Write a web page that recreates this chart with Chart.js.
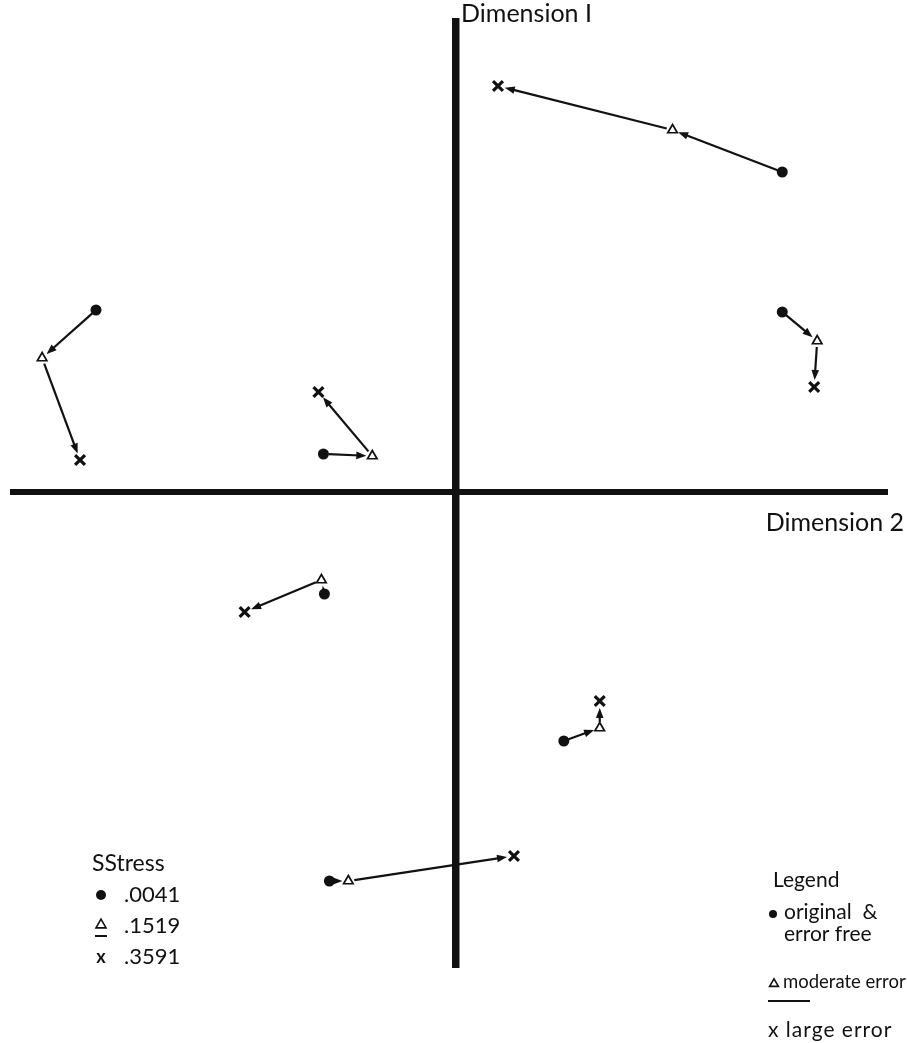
<!DOCTYPE html>
<html>
<head>
<meta charset="utf-8">
<script src="https://cdn.jsdelivr.net/npm/chart.js@4.4.1/dist/chart.umd.min.js"></script>
<style>
  html, body { margin: 0; padding: 0; background: #fff; }
  #wrap { width: 907px; height: 1043px; }
</style>
</head>
<body>
<div id="wrap"><canvas id="stressPlot"></canvas></div>
<script>
// configurations: original & error free (dot), moderate error (triangle), large error (x)
// values in arbitrary map units, Dimension 2 across, Dimension 1 up
originalX = [3.27, 3.27, -3.61, -1.33, -1.32, 1.08, -1.27]
originalY = [3.20, 1.80, 1.82, 0.38, -1.02, -2.49, -3.89]
moderateX = [2.17, 3.62, -4.15, -0.84, -1.35, 1.44, -1.08]
moderateY = [3.62, 1.51, 1.34, 0.36, -0.88, -2.36, -3.89]
largeX = [0.42, 3.59, -3.77, -1.38, -2.12, 1.44, 0.58]
largeY = [4.06, 1.05, 0.32, 1.00, -1.20, -2.09, -3.64]

sstressLabels = ['.0041', '.1519', '.3591']
axisLabels = ['Dimension I', 'Dimension 2']

function toPoints(xs, ys) {
    return xs.map((x, i) => ({ x: x, y: ys[i] }))
}

var fontFamily = 'Lato, "Open Sans", sans-serif'

// arrows dot -> triangle -> x
var arrowPlugin = {
    id: 'arrows',
    afterDatasetsDraw(chart) {
        var c = chart.ctx
        var sx = chart.scales.x, sy = chart.scales.y
        function arrow(x0, y0, x1, y1, gapStart, gapEnd) {
            var ax = sx.getPixelForValue(x0), ay = sy.getPixelForValue(y0)
            var bx = sx.getPixelForValue(x1), by = sy.getPixelForValue(y1)
            var dx = bx - ax, dy = by - ay
            var len = Math.sqrt(dx * dx + dy * dy)
            if (len < 1) return
            var ux = dx / len, uy = dy / len
            var sxp = ax + ux * gapStart, syp = ay + uy * gapStart
            var ex = bx - ux * gapEnd, ey = by - uy * gapEnd
            var head = Math.min(10, len * 0.45)
            var w = head * 0.38
            c.save()
            c.strokeStyle = '#111'
            c.fillStyle = '#111'
            c.lineWidth = 2.2
            c.beginPath()
            c.moveTo(sxp, syp)
            c.lineTo(ex - ux * head * 0.6, ey - uy * head * 0.6)
            c.stroke()
            c.beginPath()
            c.moveTo(ex, ey)
            c.lineTo(ex - ux * head - uy * w, ey - uy * head + ux * w)
            c.lineTo(ex - ux * head + uy * w, ey - uy * head - ux * w)
            c.closePath()
            c.fill()
            c.restore()
        }
        for (var i = 0; i < originalX.length; i++) {
            arrow(originalX[i], originalY[i], moderateX[i], moderateY[i], 5, 6)
            arrow(moderateX[i], moderateY[i], largeX[i], largeY[i], 6, 7)
        }
    }
}

// axis titles and the two keys
var textPlugin = {
    id: 'texts',
    afterDraw(chart) {
        var c = chart.ctx
        var area = chart.chartArea
        var sx = chart.scales.x, sy = chart.scales.y
        var zx = sx.getPixelForValue(0), zy = sy.getPixelForValue(0)
        c.save()
        c.fillStyle = '#111'
        c.strokeStyle = '#111'
        c.textBaseline = 'middle'

        c.font = '25px ' + fontFamily
        c.textAlign = 'left'
        c.fillText(axisLabels[0], zx + 5, area.top - 4)
        c.textAlign = 'right'
        c.fillText(axisLabels[1], 904, zy + 31)

        // SStress key
        c.textAlign = 'left'
        c.font = '23px ' + fontFamily
        c.fillText('SStress', 92, 864)
        var rowY = [895, 926, 957]
        c.beginPath(); c.arc(101, rowY[0], 5, 0, Math.PI * 2); c.fill()
        drawTriangle(c, 101, rowY[1] - 2, 4.8)
        c.lineWidth = 2
        c.beginPath(); c.moveTo(95, rowY[1] + 10); c.lineTo(107, rowY[1] + 10); c.stroke()
        c.font = 'bold 18px ' + fontFamily
        c.textAlign = 'center'
        c.fillText('x', 101, rowY[2])
        c.textAlign = 'left'
        c.font = '22px ' + fontFamily
        for (var i = 0; i < sstressLabels.length; i++) {
            c.fillText(sstressLabels[i], 124, rowY[i])
        }

        // Legend
        c.font = '21px ' + fontFamily
        c.fillText('Legend', 773, 880)
        c.beginPath(); c.arc(773, 914, 4, 0, Math.PI * 2); c.fill()
        c.fillText('original  &', 784, 912)
        c.fillText('error free', 784, 934)
        drawTriangle(c, 774, 983, 4.2)
        c.font = '18.5px ' + fontFamily
        c.fillText('moderate error', 783, 982)
        c.lineWidth = 2
        c.beginPath(); c.moveTo(768, 1001); c.lineTo(810, 1001); c.stroke()
        c.font = '21px ' + fontFamily
        c.letterSpacing = '1px'
        c.fillText('x large error', 768, 1030)
        c.restore()
    }
}

function drawTriangle(c, x, y, r) {
    c.save()
    c.lineWidth = 1.6
    c.beginPath()
    c.moveTo(x, y - r)
    c.lineTo(x + r * 1.05, y + r * 0.8)
    c.lineTo(x - r * 1.05, y + r * 0.8)
    c.closePath()
    c.stroke()
    c.restore()
}

var ctx = document.getElementById('stressPlot').getContext('2d')

var myChart = new Chart(ctx, {
    type: 'scatter',
    data: {
        datasets: [
            {
                label: 'original & error free',
                data: toPoints(originalX, originalY),
                pointStyle: 'circle',
                pointRadius: 5.5,
                backgroundColor: '#111',
                borderColor: '#111',
                borderWidth: 0
            },
            {
                label: 'moderate error',
                data: toPoints(moderateX, moderateY),
                pointStyle: 'triangle',
                pointRadius: 5.5,
                backgroundColor: '#fff',
                borderColor: '#111',
                borderWidth: 1.7
            },
            {
                label: 'large error',
                data: toPoints(largeX, largeY),
                pointStyle: 'crossRot',
                pointRadius: 7,
                backgroundColor: '#111',
                borderColor: '#111',
                borderWidth: 3.2
            }
        ]
    },
    options: {
        responsive: true,
        maintainAspectRatio: false,
        animation: false,
        events: [],
        layout: {
            padding: { left: 8, right: 19, top: 18, bottom: 75 }
        },
        plugins: {
            legend: { display: false },
            tooltip: { enabled: false }
        },
        scales: {
            x: {
                type: 'linear',
                min: -4.47,
                max: 4.33,
                afterBuildTicks: axis => { axis.ticks = [{ value: 0 }] },
                ticks: { display: false },
                border: { display: false },
                grid: {
                    color: '#111',
                    lineWidth: 7.5,
                    drawTicks: false
                }
            },
            y: {
                type: 'linear',
                min: -4.76,
                max: 4.74,
                afterBuildTicks: axis => { axis.ticks = [{ value: 0 }] },
                ticks: { display: false },
                border: { display: false },
                grid: {
                    color: '#111',
                    lineWidth: 6,
                    drawTicks: false
                }
            }
        }
    },
    plugins: [arrowPlugin, textPlugin]
})
</script>
</body>
</html>
